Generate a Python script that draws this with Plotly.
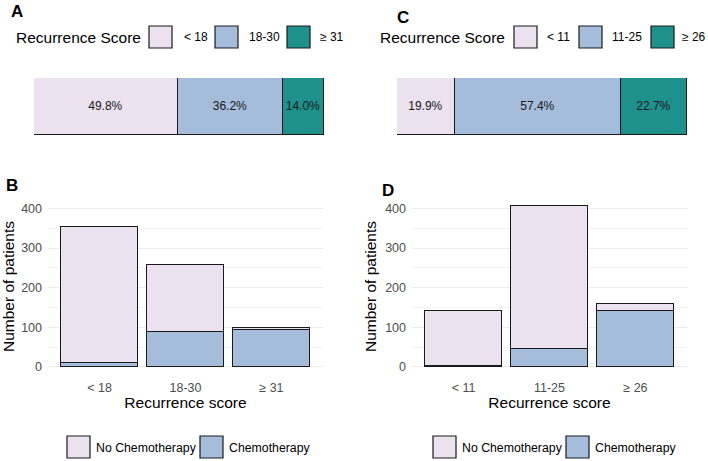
import plotly.graph_objects as go

# Panels A/B: original recurrence score groups
groups_ab = ["< 18", "18-30", "≥ 31"]
share_ab = [49.8, 36.2, 14.0]
chemo_b = [9, 87, 92]
no_chemo_b = [343, 169, 7]

# Panels C/D: alternative cut-offs
groups_cd = ["< 11", "11-25", "≥ 26"]
share_cd = [19.9, 57.4, 22.7]
chemo_d = [3, 46, 141]
no_chemo_d = [138, 360, 19]

W, H = 708, 461
FONT = "Liberation Sans, Arial, sans-serif"
score_colors = ["#EBE1EF", "#A5BCDB", "#1F918D"]
chemo_colors = {"No Chemotherapy": "#EBE1EF", "Chemotherapy": "#A5BCDB"}
edge = dict(color="#1A1A1A", width=1.2)


def px(x):
    return x / W


def py(y):
    return 1 - y / H


fig = go.Figure()

# stacked percentage bars (A, C)
for shares, groups, ax in [(share_ab, groups_ab, ""), (share_cd, groups_cd, "2")]:
    for s, g, c in zip(shares, groups, score_colors):
        fig.add_trace(go.Bar(
            x=[s], y=[0], orientation="h", width=1, name=g,
            marker=dict(color=c, line=edge),
            text=[f"{s:.1f}%"], textposition="inside", insidetextanchor="middle",
            textangle=0, constraintext="none",
            textfont=dict(size=12, color="#1A1A1A", family=FONT),
            xaxis="x" + ax, yaxis="y" + ax, showlegend=False,
        ))

# stacked count bars (B, D)
for groups, chemo, no_chemo, ax in [(groups_ab, chemo_b, no_chemo_b, "3"),
                                    (groups_cd, chemo_d, no_chemo_d, "4")]:
    fig.add_trace(go.Bar(x=groups, y=chemo, width=0.9, name="Chemotherapy",
                         marker=dict(color=chemo_colors["Chemotherapy"], line=edge),
                         xaxis="x" + ax, yaxis="y" + ax, showlegend=False))
    fig.add_trace(go.Bar(x=groups, y=no_chemo, width=0.9, name="No Chemotherapy",
                         marker=dict(color=chemo_colors["No Chemotherapy"], line=edge),
                         xaxis="x" + ax, yaxis="y" + ax, showlegend=False))

hidden = dict(visible=False, fixedrange=True)
count_y = dict(range=[-20.3, 426.3], dtick=100, showgrid=True, gridcolor="#EBEBEB",
               gridwidth=1.1, zeroline=False, showline=False, ticks="",
               tickfont=dict(size=12.5, color="#4D4D4D"), ticklabelstandoff=5,
               minor=dict(dtick=50, showgrid=True, gridcolor="#F2F2F2", gridwidth=0.8),
               title=dict(text="Number of patients", font=dict(size=15.5, color="black"),
                          standoff=4))
count_x = dict(range=[-0.6, 2.6], showgrid=False, zeroline=False, showline=False,
               ticks="", tickfont=dict(size=12.5, color="#4D4D4D"), ticklabelstandoff=3,
               title=dict(text="Recurrence score", font=dict(size=15.5, color="black"),
                          standoff=3))

fig.update_layout(
    width=W, height=H, margin=dict(l=0, r=0, t=0, b=0),
    paper_bgcolor="white", plot_bgcolor="white",
    font=dict(family=FONT, color="black"),
    barmode="stack", bargap=0,
    xaxis=dict(domain=[px(34), px(324)], range=[0, 100], **hidden),
    yaxis=dict(domain=[py(135), py(78)], range=[-0.5, 0.5], **hidden),
    xaxis2=dict(domain=[px(397), px(687)], range=[0, 100], **hidden),
    yaxis2=dict(domain=[py(135), py(78)], range=[-0.5, 0.5], **hidden),
    xaxis3=dict(domain=[px(48), px(323)], anchor="y3", **count_x),
    yaxis3=dict(domain=[py(375), py(198)], anchor="x3", **count_y),
    xaxis4=dict(domain=[px(412), px(687)], anchor="y4", **count_x),
    yaxis4=dict(domain=[py(375), py(198)], anchor="x4", **count_y),
)

shapes, notes = [], []


def note(text, x, y, size, xanchor="center"):
    notes.append(dict(text=text, x=px(x), y=py(y), xref="paper", yref="paper",
                      xanchor=xanchor, yanchor="middle", showarrow=False,
                      font=dict(size=size, color="black")))


# panel letters
for letter, x, y in [("A", 16.5, 11.5), ("C", 403, 17), ("B", 12, 185), ("D", 388, 191)]:
    note(f"<b>{letter}</b>", x, y, 17)

# recurrence score legends (top)
for title_right, key_xs, label_xs, groups in [
        (143, [149, 215, 287], [182, 247, 318], groups_ab),
        (507, [514, 579, 651], [545, 610, 680], groups_cd)]:
    note("Recurrence Score", title_right, 37, 15.5, "right")
    for kx, lx, g, c in zip(key_xs, label_xs, groups, score_colors):
        shapes.append(dict(type="rect", xref="paper", yref="paper", x0=px(kx), x1=px(kx + 23),
                           y0=py(48), y1=py(26), fillcolor=c, line=dict(color="#1A1A1A", width=1.2)))
        note(g, lx, 37, 12, "left")

# chemotherapy legends (bottom)
for key_xs in [[67, 200], [433, 566]]:
    for kx, (lab, c) in zip(key_xs, chemo_colors.items()):
        shapes.append(dict(type="rect", xref="paper", yref="paper", x0=px(kx), x1=px(kx + 23),
                           y0=py(458), y1=py(436), fillcolor=c, line=dict(color="#1A1A1A", width=1.2)))
        note(lab, kx + 27, 447.5, 12.3, "left")

fig.update_layout(shapes=shapes, annotations=notes)

fig.write_html("out.html", config={"displayModeBar": False},
               post_script="document.body.style.margin='0';")
